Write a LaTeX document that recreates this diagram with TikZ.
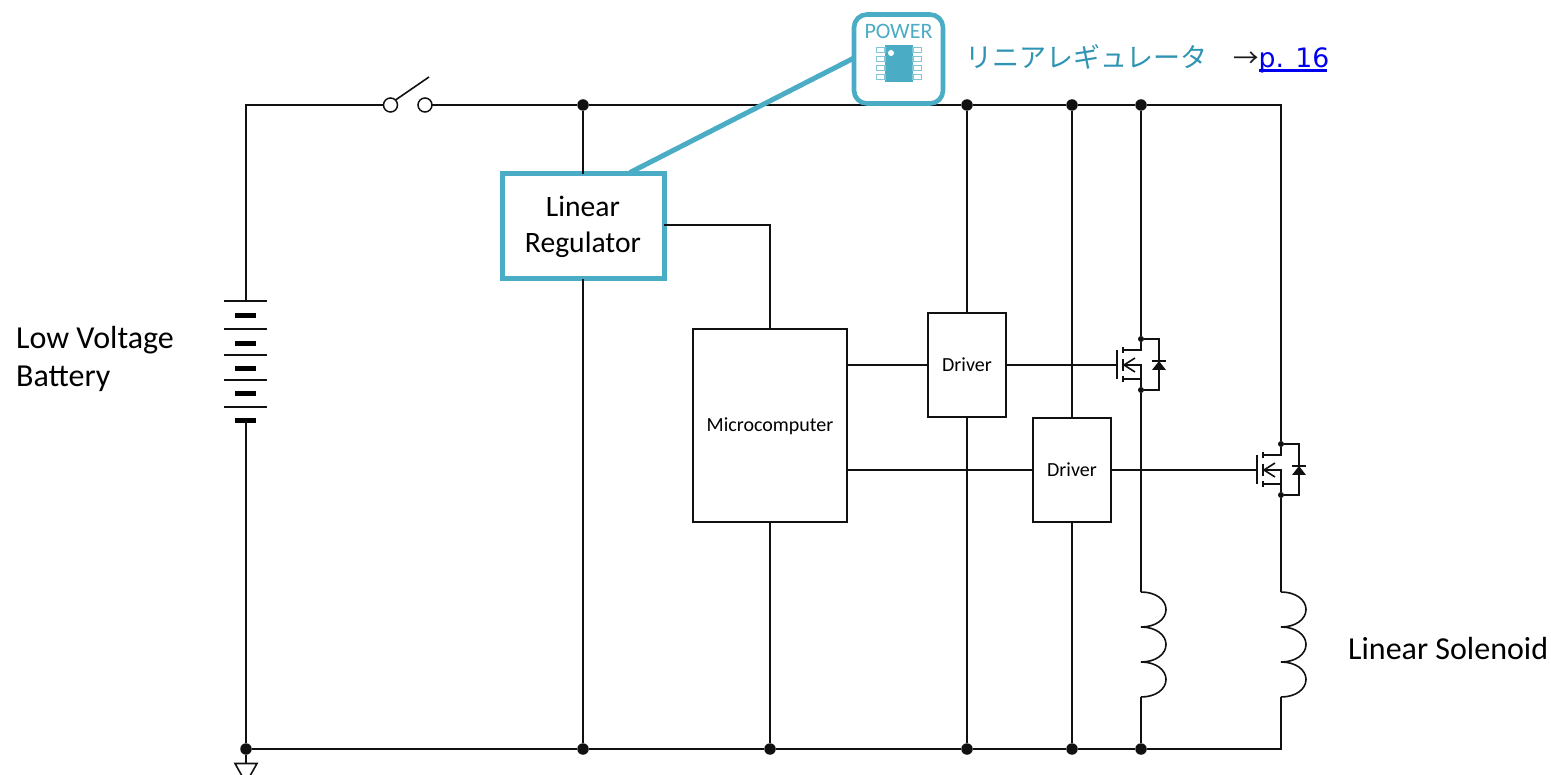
\documentclass[tikz,border=0pt]{standalone}
\usepackage{fontspec}
\setmainfont{Carlito}
\newfontfamily\cjk{Noto Sans CJK JP}
\newfontfamily\linkfont{DejaVu Sans}
\definecolor{accent}{HTML}{4BACC6}
\definecolor{jptext}{HTML}{2F93B3}
\definecolor{linkblue}{HTML}{0000F0}
\definecolor{wire}{HTML}{111111}
\tikzset{
  wireline/.style={draw=wire,line width=1.6pt},
  jdot/.style={circle,fill=wire,draw=none,inner sep=0pt,minimum size=11.5pt,outer sep=0pt},
  smalldot/.style={circle,fill=wire,draw=none,inner sep=0pt,minimum size=6pt,outer sep=0pt},
  blockbox/.style={draw=wire,line width=1.6pt,fill=white,inner sep=0pt,outer sep=0pt},
  bigtext/.style={font=\fontsize{32}{38}\selectfont,text=black,inner sep=0pt},
  plate/.style={draw=wire,line width=1.6pt},
  bar/.style={draw=black,line width=5pt},
  mosfet/.pic={
    \coordinate (-gate) at (-25,0);
    \node[smalldot] (-d) at (0,-26) {};
    \node[smalldot] (-s) at (0,25) {};
    \draw[wireline] (-24,-15) -- (-24,14);
    \draw[wireline] (-18,-18) -- (-18,-12);
    \draw[wireline] (-18,-6) -- (-18,6);
    \draw[wireline] (-18,11) -- (-18,17);
    \draw[wireline] (-d) -- (0,-15) -- (-18,-15);
    \draw[wireline] (-s) -- (0,0) -- (-17,0);
    \draw[wireline] (0,14) -- (-18,14);
    \draw[wireline] (-6,-7) -- (-17,0) -- (-6,7);
    \draw[wireline] (-d) -- (18,-26) -- (18,25) -- (-s);
    \fill[wire] (11,5) -- (25,5) -- (18,-4) -- cycle;
    \draw[wireline] (11,-4) -- (25,-4);
  },
  coilshape/.pic={
    \coordinate (-top) at (0,0);
    \coordinate (-bot) at (0,105);
    \draw[wireline] (0,0)
      .. controls (15,0) and (25,8) .. (25,17.5) .. controls (25,27) and (15,35) .. (0,35)
      .. controls (15,35) and (25,43) .. (25,52.5) .. controls (25,62) and (15,70) .. (0,70)
      .. controls (15,70) and (25,78) .. (25,87.5) .. controls (25,97) and (15,105) .. (0,105);
  }
}
\begin{document}
\begin{tikzpicture}[x=1pt,y=-1pt]
\path[use as bounding box] (0,0) rectangle (1551,775);
\clip (0,0) rectangle (1551,775);
% corners
\coordinate (tl) at (246,105);
\coordinate (tr) at (1281,105);
\coordinate (br) at (1281,749);
% junctions
\node[jdot] (t1) at (583,105) {};
\node[jdot] (t2) at (967,105) {};
\node[jdot] (t3) at (1072,105) {};
\node[jdot] (t4) at (1141,105) {};
\node[jdot] (b0) at (246,749) {};
\node[jdot] (b1) at (583,749) {};
\node[jdot] (b2) at (770,749) {};
\node[jdot] (b3) at (967,749) {};
\node[jdot] (b4) at (1072,749) {};
\node[jdot] (b5) at (1141,749) {};
% switch
\node[circle,draw=wire,line width=1.5pt,fill=white,minimum size=14pt,inner sep=0pt,outer sep=0pt] (swa) at (390.5,105) {};
\node[circle,draw=wire,line width=1.5pt,fill=white,minimum size=14pt,inner sep=0pt,outer sep=0pt] (swb) at (425,105) {};
\coordinate (lever) at (429,77);
% blocks
\node[blockbox,draw=accent,line width=5pt,minimum width=162pt,minimum height=105pt] (reg) at (583,226.5) {};
\node[blockbox,minimum width=154pt,minimum height=193pt] (mcu) at (770,425.5) {};
\node[blockbox,minimum width=78pt,minimum height=104pt] (drv1) at (967,365) {};
\node[blockbox,minimum width=78pt,minimum height=104pt] (drv2) at (1072,470) {};
% battery
\coordinate (battop) at (246,301);
\coordinate (batbot) at (246,421);
\draw[plate] (224,301) -- (267,301);
\draw[plate] (224,329) -- (267,329);
\draw[plate] (224,355) -- (267,355);
\draw[plate] (224,380) -- (267,380);
\draw[plate] (224,407) -- (267,407);
\draw[bar] (235,315.5) -- (256,315.5);
\draw[bar] (235,343.5) -- (256,343.5);
\draw[bar] (235,369) -- (256,369);
\draw[bar] (235,394) -- (256,394);
\draw[bar] (235,420.5) -- (256,420.5);
% transistors and coils
\pic (m1) at (1141,365) {mosfet};
\pic (m2) at (1281,470) {mosfet};
\pic (c1) at (1141,592) {coilshape};
\pic (c2) at (1281,592) {coilshape};
% wires
\draw[wireline] (battop) -- (tl) -- (swa);
\draw[wireline] (swb) -- (t1);
\draw[wireline] (t1) -- (t2);
\draw[wireline] (t2) -- (t3);
\draw[wireline] (t3) -- (t4);
\draw[wireline] (t4) -- (tr) -- (m2-d);
\draw[wireline] (swa.45) -- (lever);
\draw[wireline] (batbot) -- (b0);
\draw[wireline] (b0) -- (b1);
\draw[wireline] (b1) -- (b2);
\draw[wireline] (b2) -- (b3);
\draw[wireline] (b3) -- (b4);
\draw[wireline] (b4) -- (b5);
\draw[wireline] (b5) -- (br) -- (c2-bot);
\draw[wireline] (t1) -- (reg.north);
\draw[wireline] (reg.south) -- (b1);
\draw[wireline] (reg.east |- 0,225) -- (770,225) -- (mcu.north);
\draw[wireline] (mcu.south) -- (b2);
\draw[wireline] (t2) -- (drv1.north);
\draw[wireline] (drv1.south) -- (b3);
\draw[wireline] (t3) -- (drv2.north);
\draw[wireline] (drv2.south) -- (b4);
\draw[wireline] (mcu.east |- drv1.west) -- (drv1.west);
\draw[wireline] (mcu.east |- drv2.west) -- (drv2.west);
\draw[wireline] (drv1.east) -- (m1-gate);
\draw[wireline] (drv2.east) -- (m2-gate);
\draw[wireline] (t4) -- (m1-d);
\draw[wireline] (m1-s) -- (c1-top);
\draw[wireline] (m2-s) -- (c2-top);
\draw[wireline] (c1-bot) -- (b5);
% ground
\draw[draw=wire,line width=1.6pt] (b0) -- (246,763);
\draw[draw=wire,line width=1.6pt,line join=miter] (235,763.5) -- (257,763.5) -- (246,783) -- cycle;
% callout
\node[draw=accent,line width=4.6pt,fill=white,rounded corners=13pt,minimum width=89pt,minimum height=89pt,inner sep=0pt,outer sep=0pt] (icon) at (898.5,59) {};
\draw[accent,line width=5pt] (630,172.5) -- (icon.west |- 0,58);
\fill[accent] (885,45) rectangle (913,82);
\foreach \py in {50,59,68,77}{
  \draw[accent!70,line width=1.1pt,fill=white] (876.5,\py-2.5) rectangle (885,\py+2.5);
  \draw[accent!70,line width=1.1pt,fill=white] (913,\py-2.5) rectangle (921.5,\py+2.5);
}
\fill[white] (891,53) circle (3pt);
\node[font=\fontsize{22}{24}\selectfont,text=accent,inner sep=0pt] (powerlabel) at (898.5,31) {POWER};
% labels
\node[align=center,inner sep=0pt,font=\fontsize{29.6}{36}\selectfont] (reglabel) at (583,227) {Linear\\Regulator};
\node[font=\fontsize{20}{22}\selectfont,inner sep=0pt] (mculabel) at (770,426) {Microcomputer};
\node[font=\fontsize{20}{22}\selectfont,inner sep=0pt] (drv1label) at (967,365) {Driver};
\node[font=\fontsize{20}{22}\selectfont,inner sep=0pt] (drv2label) at (1072,470) {Driver};
\node[bigtext,align=left,anchor=west] (batlabel) at (16,359) {Low Voltage\\Battery};
\node[bigtext,anchor=west] (sollabel) at (1348,649) {Linear Solenoid};
\node[anchor=west,inner sep=0pt,font=\cjk\fontsize{27}{30}\selectfont] (jplabel) at (965,59) {\textcolor{jptext}{リニアレギュレータ　}\kern-1.5pt\textcolor{black!90}{\fontsize{25.5}{30}\selectfont →}\textcolor{linkblue}{\linkfont\fontsize{26.7}{30}\selectfont\rlap{\vrule height -1.5pt depth 4pt width 68.5pt}p. 16}};
\end{tikzpicture}
\end{document}
